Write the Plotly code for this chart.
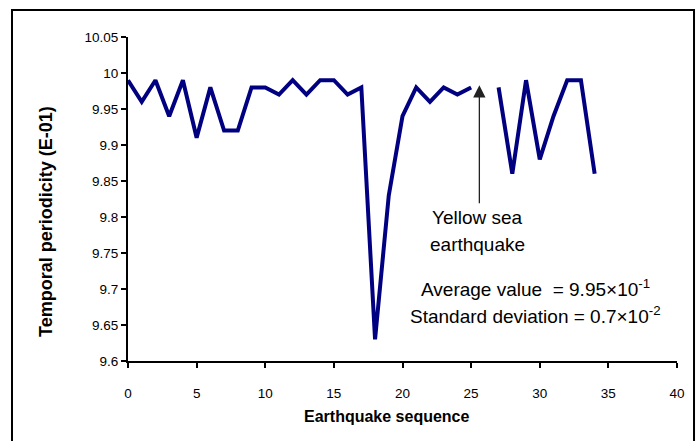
import plotly.graph_objects as go

seq = list(range(0, 35))
periodicity = [9.99, 9.96, 9.99, 9.94, 9.99, 9.91, 9.98, 9.92, 9.92, 9.98,
               9.98, 9.97, 9.99, 9.97, 9.99, 9.99, 9.97, 9.98, 9.63, 9.83,
               9.94, 9.98, 9.96, 9.98, 9.97, 9.98, None, 9.98, 9.86, 9.99,
               9.88, 9.94, 9.99, 9.99, 9.86]

x_ticks = [0, 5, 10, 15, 20, 25, 30, 35, 40]
y_ticks = [9.6, 9.65, 9.7, 9.75, 9.8, 9.85, 9.9, 9.95, 10.0, 10.05]
y_tick_text = ["9.6", "9.65", "9.7", "9.75", "9.8", "9.85", "9.9", "9.95", "10", "10.05"]

FONT = "Liberation Sans, Arial, sans-serif"

fig = go.Figure()
fig.add_trace(go.Scatter(x=seq, y=periodicity, mode="lines",
                         line=dict(color="#000080", width=4),
                         connectgaps=False, showlegend=False))

fig.update_layout(
    width=697, height=441,
    margin=dict(l=128, r=20, t=37, b=80),
    paper_bgcolor="white", plot_bgcolor="white",
    font=dict(family=FONT, color="black", size=13),
    xaxis=dict(range=[0, 40], tickvals=x_ticks, showgrid=False, zeroline=False,
               showline=True, linecolor="black", linewidth=2,
               ticks="outside", ticklen=5, tickwidth=2, tickcolor="black",
               ticklabelstandoff=14,
               tickfont=dict(size=13.5)),
    yaxis=dict(range=[9.6, 10.05], tickvals=y_ticks, ticktext=y_tick_text,
               showgrid=False, zeroline=False,
               showline=True, linecolor="black", linewidth=2,
               ticks="outside", ticklen=5, tickwidth=2, tickcolor="black",
               tickfont=dict(size=13.5)),
)

# axis titles placed as annotations (offset like the reference)
fig.add_annotation(xref="paper", yref="paper", x=(387 - 128) / 549, y=(361 - 416) / 324,
                   text="<b>Earthquake sequence</b>", showarrow=False,
                   font=dict(size=16), xanchor="center", yanchor="middle")
fig.add_annotation(xref="paper", yref="paper", x=(46 - 128) / 549, y=(361 - 222) / 324,
                   text="<b>Temporal periodicity (E-01)</b>", showarrow=False, textangle=-90,
                   font=dict(size=18), xanchor="center", yanchor="middle")

# outer frame
fig.add_shape(type="rect", xref="paper", yref="paper",
              x0=-0.2113, x1=1.031, y0=-0.3, y1=1.0833,
              line=dict(color="black", width=2), fillcolor="rgba(0,0,0,0)", layer="below")

# arrow
fig.add_annotation(x=25.6, y=9.983, ax=25.6, ay=9.817, xref="x", yref="y",
                   axref="x", ayref="y", text="", showarrow=True,
                   arrowhead=2, arrowsize=1.9, arrowwidth=1.3, arrowcolor="#222222")

TXT = 19
fig.add_annotation(x=25.5, y=9.80, xref="x", yref="y", text="Yellow sea",
                   showarrow=False, font=dict(size=TXT), xanchor="center", yanchor="middle")
fig.add_annotation(x=25.5, y=9.762, xref="x", yref="y", text="earthquake",
                   showarrow=False, font=dict(size=TXT), xanchor="center", yanchor="middle")
fig.add_annotation(x=29.7, y=9.702, xref="x", yref="y",
                   text="Average value  = 9.95×10<sup>-1</sup>",
                   showarrow=False, font=dict(size=TXT), xanchor="center", yanchor="middle")
fig.add_annotation(x=29.7, y=9.664, xref="x", yref="y",
                   text="Standard deviation = 0.7×10<sup>-2</sup>",
                   showarrow=False, font=dict(size=TXT), xanchor="center", yanchor="middle")

fig.write_html("out.html")
